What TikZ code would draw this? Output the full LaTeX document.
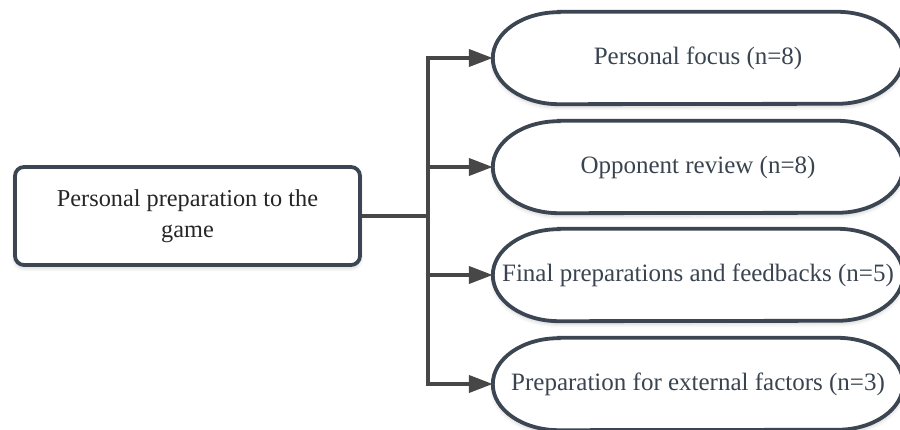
\documentclass[tikz,border=0pt]{standalone}
\usepackage{fontspec}
\setmainfont{Liberation Serif}
\usetikzlibrary{arrows.meta,backgrounds,shadows.blur}

\definecolor{edgegray}{HTML}{3B4652}
\definecolor{linkgray}{HTML}{474747}
\definecolor{labelgray}{HTML}{3A4450}

\tikzset{
  softshadow/.style={blur shadow={shadow xshift=0pt, shadow yshift=-3pt,
      shadow blur radius=4pt, shadow blur steps=8, shadow opacity=18}},
  mainbox/.style={draw=edgegray, line width=3.8pt, rounded corners=9pt,
      fill=white, minimum width=345pt, minimum height=98pt, align=center,
      font=\fontsize{24.3}{31}\selectfont, text=black!85, softshadow},
  topic/.style={minimum width=410pt, minimum height=92pt, inner sep=0pt,
      font=\fontsize{25}{30}\selectfont, text=labelgray},
  pill/.style={draw=edgegray, line width=3.8pt, fill=white, softshadow},
  link/.style={draw=linkgray, line width=4pt},
  linkarrow/.style={link, -{Triangle[length=24pt,width=17pt]}}
}

% stadium outline with elliptical ends around a topic node
\newcommand\pillaround[1]{%
  \path[pill] ([xshift=66pt]#1.north west) -- ([xshift=-66pt]#1.north east)
    arc[start angle=90, end angle=-90, x radius=66pt, y radius=46pt]
    -- ([xshift=66pt]#1.south west)
    arc[start angle=270, end angle=90, x radius=66pt, y radius=46pt] -- cycle;}

\begin{document}
\begin{tikzpicture}[x=1pt, y=1pt]
  \useasboundingbox (0,0) rectangle (900,430);

  \node[mainbox] (main) at (187.5,214) {Personal preparation to the\\game};

  \node[topic] (p1) at (698,372) {Personal focus (n=8)};
  \node[topic] (p2) at (698,263) {Opponent review (n=8)};
  \node[topic] (p3) at (698,155) {Final preparations and feedbacks (n=5)};
  \node[topic] (p4) at (698,46)  {Preparation for external factors (n=3)};

  \begin{pgfonlayer}{background}
    \pillaround{p1}
    \pillaround{p2}
    \pillaround{p3}
    \pillaround{p4}
  \end{pgfonlayer}

  \coordinate (junction) at (428,214);
  \draw[link] (main.east) -- (junction);
  \draw[linkarrow] (junction) |- (p1.west);
  \draw[linkarrow] (junction) |- (p2.west);
  \draw[linkarrow] (junction) |- (p3.west);
  \draw[linkarrow] (junction) |- (p4.west);
\end{tikzpicture}
\end{document}
